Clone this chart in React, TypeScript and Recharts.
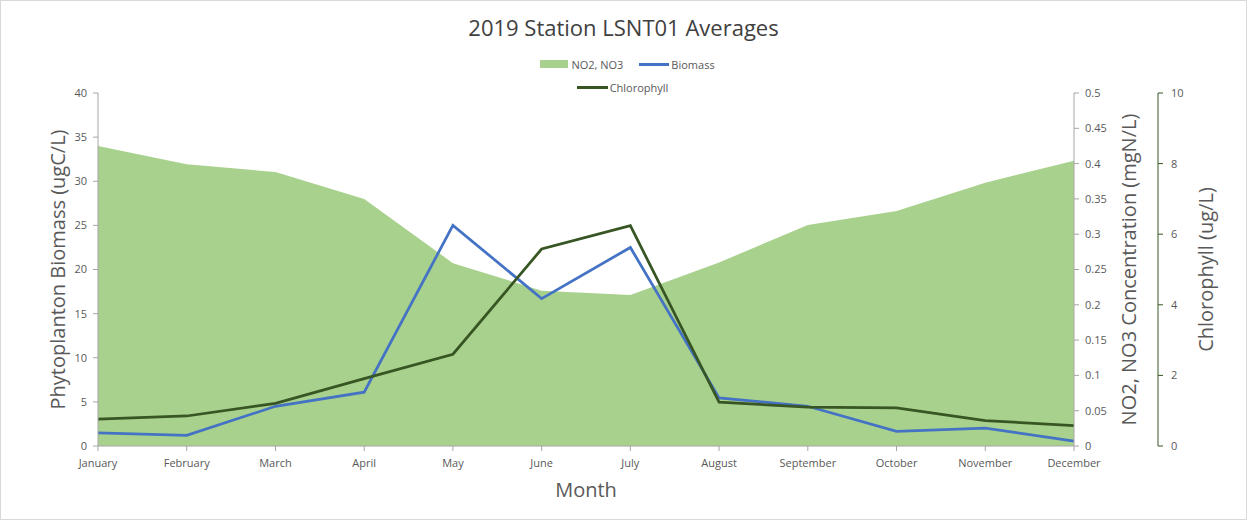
import React from 'react';
import { ComposedChart, Area, Line, XAxis, YAxis, Legend } from 'recharts';

const months = ['January', 'February', 'March', 'April', 'May', 'June', 'July', 'August', 'September', 'October', 'November', 'December'];
const no3Values = [0.425, 0.399, 0.388, 0.35, 0.259, 0.22, 0.214, 0.26, 0.313, 0.333, 0.373, 0.404];
const biomassValues = [1.5, 1.2, 4.5, 6.1, 25.0, 16.7, 22.5, 5.45, 4.5, 1.65, 2.03, 0.55];
const chlorophyllValues = [0.76, 0.85, 1.21, 1.91, 2.6, 5.58, 6.24, 1.24, 1.1, 1.08, 0.72, 0.58];

const biomassTicks = [0, 5, 10, 15, 20, 25, 30, 35, 40];
const no3Ticks = [0, 0.05, 0.1, 0.15, 0.2, 0.25, 0.3, 0.35, 0.4, 0.45, 0.5];
const chlTicks = [0, 2, 4, 6, 8, 10];

const data = months.map((m, i) => ({
  month: m,
  no3: no3Values[i],
  biomass: biomassValues[i],
  chlorophyll: chlorophyllValues[i],
}));

const FONT = '"Open Sans", sans-serif';
const TICK_COLOR = '#595959';
const AREA_COLOR = '#A9D18E';
const BIOMASS_COLOR = '#4472C4';
const CHL_COLOR = '#375623';

function vLabel(text: string, xOff: number) {
  return (props: any) => {
    const vb = props.viewBox;
    const x = vb.x + xOff;
    const y = vb.y + vb.height / 2;
    return (
      <text
        x={x}
        y={y}
        transform={`rotate(-90 ${x} ${y})`}
        textAnchor="middle"
        dominantBaseline="central"
        fill={TICK_COLOR}
        fontSize={20}
        fontFamily={FONT}
      >
        {text}
      </text>
    );
  };
}

const monthLabel = (props: any) => {
  const vb = props.viewBox;
  return (
    <text x={vb.x + vb.width / 2} y={vb.y + 43} textAnchor="middle" dominantBaseline="central" fill={TICK_COLOR} fontSize={20} fontFamily={FONT}>
      Month
    </text>
  );
};

const legendContent = () => (
  <div style={{ fontFamily: FONT, fontSize: 11, color: TICK_COLOR, width: 1247 }}>
    <div style={{ display: 'flex', justifyContent: 'center', alignItems: 'center', height: 20, paddingLeft: 8 }}>
      <span style={{ display: 'inline-block', width: 28, height: 8, background: AREA_COLOR, marginRight: 3 }} />
      <span style={{ marginRight: 16 }}>NO2, NO3</span>
      <span style={{ display: 'inline-block', width: 30, height: 3, background: BIOMASS_COLOR, marginRight: 2 }} />
      <span>Biomass</span>
    </div>
    <div style={{ display: 'flex', justifyContent: 'center', alignItems: 'center', height: 20, marginTop: 3, paddingRight: 2 }}>
      <span style={{ display: 'inline-block', width: 31, height: 3, background: CHL_COLOR, marginRight: 2 }} />
      <span>Chlorophyll</span>
    </div>
  </div>
);

export default function App() {
  return (
    <div style={{ position: 'absolute', left: 0, top: 0, width: 1247, height: 520, background: '#fff' }}>
      <div style={{ position: 'absolute', left: 0, top: 0, width: 1245, height: 518, border: '1px solid #d9d9d9' }} />
      <div
        style={{
          position: 'absolute',
          left: 0,
          top: 12,
          width: 1247,
          textAlign: 'center',
          fontFamily: FONT,
          fontSize: 22,
          color: '#404040',
        }}
      >
        2019 Station LSNT01 Averages
      </div>
      <ComposedChart width={1247} height={520} data={data} margin={{ top: 93, right: 0, bottom: 0, left: 0 }} style={{ position: 'absolute', left: 0, top: 0 }}>
        <XAxis
          dataKey="month"
          height={74}
          interval={0}
          padding={{ left: 0, right: 0 }}
          tickSize={5}
          tickMargin={8}
          stroke="#a6a6a6"
          tick={{ fill: TICK_COLOR, fontSize: 11, fontFamily: FONT }}
          label={monthLabel}
        />
        <YAxis
          yAxisId="left"
          orientation="left"
          width={98}
          domain={[0, 40]}
          ticks={biomassTicks}
          interval={0}
          tickSize={5}
          tickMargin={6}
          stroke="#a6a6a6"
          tick={{ fill: TICK_COLOR, fontSize: 11, fontFamily: FONT }}
          label={vLabel('Phytoplanton Biomass (ugC/L)', 57)}
        />
        <YAxis
          yAxisId="r1"
          orientation="right"
          width={84}
          domain={[0, 0.5]}
          ticks={no3Ticks}
          interval={0}
          tickSize={5}
          tickMargin={6}
          stroke="#a6a6a6"
          tickFormatter={(v: number) => String(+v.toFixed(2))}
          tick={{ fill: TICK_COLOR, fontSize: 11, fontFamily: FONT }}
          label={vLabel('NO2, NO3 Concentration (mgN/L)', 54)}
        />
        <YAxis
          yAxisId="r2"
          orientation="right"
          width={89}
          domain={[0, 10]}
          ticks={chlTicks}
          interval={0}
          tickSize={5}
          tickMargin={8}
          stroke={CHL_COLOR}
          tick={{ fill: TICK_COLOR, fontSize: 11, fontFamily: FONT }}
          label={vLabel('Chlorophyll (ug/L)', 47)}
        />
        <Legend
          layout="vertical"
          align="center"
          verticalAlign="middle"
          wrapperStyle={{ top: 54, left: 0, width: 1247 }}
          content={legendContent}
        />
        <Area
          yAxisId="r1"
          type="linear"
          dataKey="no3"
          name="NO2, NO3"
          fill={AREA_COLOR}
          fillOpacity={1}
          stroke="none"
          isAnimationActive={false}
        />
        <Line
          yAxisId="left"
          type="linear"
          dataKey="biomass"
          name="Biomass"
          stroke={BIOMASS_COLOR}
          strokeWidth={2.75}
          dot={false}
          activeDot={false}
          isAnimationActive={false}
        />
        <Line
          yAxisId="r2"
          type="linear"
          dataKey="chlorophyll"
          name="Chlorophyll"
          stroke={CHL_COLOR}
          strokeWidth={2.75}
          dot={false}
          activeDot={false}
          isAnimationActive={false}
        />
      </ComposedChart>
    </div>
  );
}
